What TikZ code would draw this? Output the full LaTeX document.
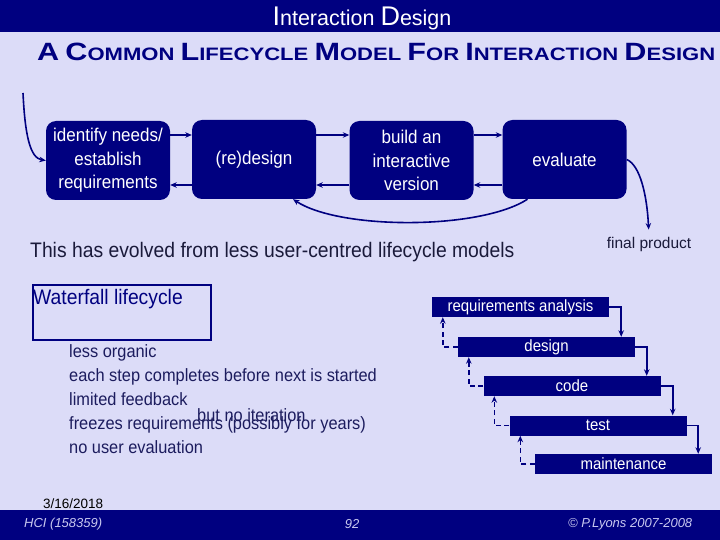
\documentclass[tikz,border=0pt]{standalone}
\usepackage{fontspec}
\setmainfont{Liberation Sans}
\newfontfamily\narrowf[FakeStretch=0.92]{Liberation Sans}
\newfontfamily\widef[FakeStretch=1.225]{Liberation Sans}
\usetikzlibrary{arrows.meta}
\definecolor{bg}{HTML}{DCDCF8}
\definecolor{navy}{HTML}{000080}
\definecolor{navytext}{HTML}{1C1C5E}
\definecolor{darktext}{HTML}{1A1A3A}
\definecolor{foottext}{HTML}{C8C8F0}
\newcommand{\capbig}[1]{{\fontsize{25}{25}\selectfont #1}}
\newcommand{\titbig}[1]{{\fontsize{27}{27}\selectfont #1}}
\tikzset{
  lcbox/.style={fill=navy, rounded corners=10pt, minimum width=124pt, minimum height=79pt,
    text=white, align=center, inner sep=0pt, font=\narrowf\fontsize{18.5}{23.5}\selectfont},
  wstep/.style={fill=navy, minimum width=177pt, minimum height=20pt, inner sep=0pt,
    text=white, font=\narrowf\fontsize{16.3}{16.3}\selectfont},
  arr/.style={draw=navy, line width=1.6pt, -{Stealth[length=6.5pt,width=5.5pt]}},
  backarr/.style={arr, dash pattern=on 5pt off 3.5pt},
  listtext/.style={text=navytext, font=\narrowf\fontsize{17.8}{24}\selectfont, align=left, inner sep=0pt},
  foot/.style={text=foottext, font=\itshape\fontsize{13}{13}\selectfont, inner sep=0pt}
}
\begin{document}
\begin{tikzpicture}[x=1pt,y=-1pt]
\fill[bg] (0,0) rectangle (720,540);
\useasboundingbox (0,0) rectangle (720,540);
% header
\fill[navy] (0,0) rectangle (720,32);
\node[anchor=base, text=white, font=\fontsize{21.5}{21.5}\selectfont, inner sep=0pt] (title) at (362,26)
  {\titbig{I}nteraction \titbig{D}esign};
\node[anchor=base west, text=navy, font=\bfseries\widef\fontsize{18}{18}\selectfont, inner sep=0pt] (sub) at (37,61)
  {\capbig{A} \capbig{C}OMMON \capbig{L}IFECYCLE \capbig{M}ODEL \capbig{F}OR \capbig{I}NTERACTION \capbig{D}ESIGN};
% lifecycle boxes
\node[lcbox] (b1) at (108,160.5) {identify needs/\\establish\\requirements};
\node[lcbox] (b2) at (254,159.5) {(re)design};
\node[lcbox] (b3) at (411.5,160.5) {build an\\interactive\\version};
\node[lcbox] (b4) at (564.5,159.5) {evaluate};
\draw[arr] ([yshift=25.5pt]b1.east) -- ([yshift=24.5pt]b2.west);
\draw[arr] ([yshift=-25.5pt]b2.west) -- ([yshift=-24.5pt]b1.east);
\draw[arr] ([yshift=24.5pt]b2.east) -- ([yshift=25.5pt]b3.west);
\draw[arr] ([yshift=-24.5pt]b3.west) -- ([yshift=-25.5pt]b2.east);
\draw[arr] ([yshift=25.5pt]b3.east) -- ([yshift=24.5pt]b4.west);
\draw[arr] ([yshift=-25.5pt]b4.west) -- ([yshift=-24.5pt]b3.east);
\coordinate (start) at (23,93);
\draw[arr] (start) .. controls (25,135) and (30,158) .. (b1.west);
\node[anchor=base, text=darktext, font=\fontsize{15.5}{15.5}\selectfont, inner sep=0pt] (fp) at (649,248) {final product};
\draw[arr, shorten >=7pt] (b4.east) .. controls (640,165) and (647,195) .. (fp.north);
\draw[arr] ([xshift=-37pt]b4.south) .. controls (480,230) and (340,230) .. ([xshift=39pt]b2.south);
% evolved text
\node[anchor=base west, text=darktext, font=\narrowf\fontsize{21}{21}\selectfont, inner sep=0pt] (evolved) at (30,258)
  {This has evolved from less user-centred lifecycle models};
% waterfall box and list
\node[draw=navy, line width=1.5pt, minimum width=178pt, minimum height=55pt, anchor=north west, inner sep=0pt] (wf) at (32,284) {};
\node[anchor=base west, text=navy, font=\narrowf\fontsize{21}{21}\selectfont, inner sep=0pt] (wftitle) at (33,304) {Waterfall lifecycle};
\node[listtext, anchor=north west] (list) at (69,344)
  {less organic\\each step completes before next is started\\limited feedback\\freezes requirements (possibly for years)\\no user evaluation};
\node[listtext, anchor=west] (noiter) at (197,415) {but no iteration};
% waterfall steps
\node[wstep] (req) at (520.5,307) {requirements analysis};
\node[wstep] (des) at (546.5,347) {design};
\node[wstep] (cod) at (572,386) {code};
\node[wstep] (tst) at (598,425.5) {test};
\node[wstep] (mnt) at (623.5,464) {maintenance};
\draw[arr] (req.east) -| ([xshift=-14pt]des.north east);
\draw[arr] (des.east) -| ([xshift=-14pt]cod.north east);
\draw[arr] (cod.east) -| ([xshift=-14pt]tst.north east);
\draw[arr] (tst.east) -| ([xshift=-14pt]mnt.north east);
\draw[backarr] (des.west) -| ([xshift=11pt]req.south west);
\draw[backarr] (cod.west) -| ([xshift=11pt]des.south west);
\draw[backarr] (tst.west) -| ([xshift=11pt]cod.south west);
\draw[backarr] (mnt.west) -| ([xshift=11pt]tst.south west);
% footer
\node[anchor=base west, text=black, font=\fontsize{13.5}{13.5}\selectfont, inner sep=0pt] (date) at (43,508) {3/16/2018};
\fill[navy] (0,510) rectangle (720,540);
\node[foot, anchor=west] (course) at (24,524) {HCI (158359)};
\node[foot] (page) at (352,524) {92};
\node[foot, anchor=west] (copy) at (568,524) {© P.Lyons 2007-2008};
\end{tikzpicture}
\end{document}
